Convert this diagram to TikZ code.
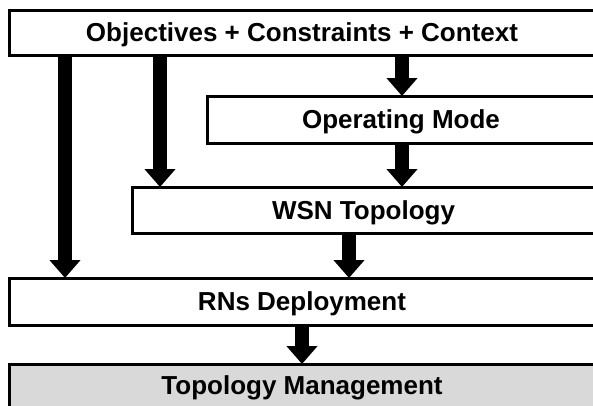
\documentclass[tikz,border=0pt]{standalone}
\usepackage{fontspec}
\setmainfont{Liberation Sans}
\usetikzlibrary{arrows.meta}
\definecolor{mgmtgray}{RGB}{217,217,217}
\tikzset{
  stage/.style={draw, line width=3pt, inner sep=0pt, outer sep=0pt,
    anchor=north west, text height=18.7pt, text depth=-1pt,
    font=\fontsize{26}{30}\selectfont\bfseries},
  flow/.style={line width=14pt, -{Triangle[width=30pt,length=18pt]}}
}

\begin{document}
\begin{tikzpicture}[x=1pt,y=-1pt]
    \clip (0,0) rectangle (593,405);
    \node[stage, minimum width=586pt, minimum height=45pt] (obj) at (9,10) {Objectives + Constraints + Context};
    \node[stage, minimum width=388pt, minimum height=47pt] (opm) at (207,96) {Operating Mode};
    \node[stage, minimum width=463pt, minimum height=46pt] (wsn) at (132,187) {WSN Topology};
    \node[stage, minimum width=586pt, minimum height=47pt] (rns) at (9,278) {RNs Deployment};
    \node[stage, fill=mgmtgray, minimum width=586pt, minimum height=43pt] (tm) at (9,364) {Topology Management};
    % arrow columns
    \coordinate (xa) at (65,0);
    \coordinate (xb) at (160,0);
    \coordinate (xc) at (402,0);
    \coordinate (xd) at (349,0);
    \coordinate (xe) at (302,0);
    \draw[flow] (obj.south -| xa) -- (rns.north -| xa);
    \draw[flow] (obj.south -| xb) -- (wsn.north -| xb);
    \draw[flow] (obj.south -| xc) -- (opm.north -| xc);
    \draw[flow] (opm.south -| xc) -- (wsn.north -| xc);
    \draw[flow] (wsn.south -| xd) -- (rns.north -| xd);
    \draw[flow] (rns.south -| xe) -- (tm.north -| xe);
\end{tikzpicture}
\end{document}
